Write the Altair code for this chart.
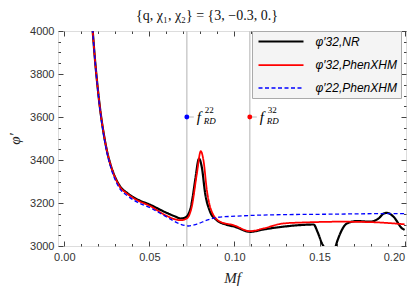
import altair as alt
import pandas as pd

# ---- data ----
mf_nr = [0.0150, 0.0167, 0.0180, 0.0195, 0.0210, 0.0230, 0.0250, 0.0275, 0.0300, 0.0330,
         0.0367, 0.0426, 0.0504, 0.0602, 0.0650, 0.0685, 0.0710, 0.0739, 0.0755, 0.0769,
         0.0792, 0.0808, 0.0828, 0.0857, 0.0896, 0.0950, 0.1000, 0.1092, 0.1171, 0.1288,
         0.1400, 0.1465, 0.1488, 0.1514, 0.1528, 0.1545, 0.1560, 0.1575, 0.1592, 0.1622,
         0.1661, 0.1720, 0.1798, 0.1850, 0.1877, 0.1896, 0.1935, 0.1985, 0.2000]
phi_nr = [4190, 4000, 3870, 3745, 3640, 3530, 3445, 3370, 3318, 3275,
          3248, 3218, 3192, 3154, 3138, 3128, 3132, 3167, 3230, 3306,
          3406, 3367, 3244, 3159, 3120, 3100, 3090, 3066, 3077, 3090,
          3098, 3100, 3066, 3012, 2990, 2940, 2920, 2930, 2990, 3059,
          3105, 3116, 3113, 3130, 3151, 3154, 3136, 3082, 3075]

mf_red = [0.0150, 0.0167, 0.0180, 0.0195, 0.0210, 0.0230, 0.0250, 0.0275, 0.0300, 0.0330,
          0.0367, 0.0426, 0.0504, 0.0602, 0.0681, 0.0720, 0.0749, 0.0779, 0.0802, 0.0818,
          0.0838, 0.0867, 0.0916, 0.0994, 0.1092, 0.1171, 0.1288, 0.1426, 0.1622, 0.1798,
          0.1985, 0.2000]
phi_red = [4190, 4000, 3870, 3745, 3640, 3530, 3445, 3370, 3316, 3272,
           3245, 3214, 3186, 3140, 3120, 3128, 3182, 3336, 3441, 3398,
           3259, 3159, 3113, 3097, 3069, 3082, 3105, 3110, 3113, 3111,
           3102, 3101]

mf_blue = [0.0150, 0.0167, 0.0180, 0.0195, 0.0210, 0.0230, 0.0250, 0.0275, 0.0300, 0.0330,
           0.0367, 0.0426, 0.0504, 0.0602, 0.0681, 0.0729, 0.0779, 0.0838, 0.0896, 0.1014,
           0.1092, 0.1171, 0.1563, 0.1985, 0.2000]
phi_blue = [4190, 4000, 3868, 3742, 3634, 3522, 3436, 3360, 3306, 3262,
            3236, 3205, 3178, 3135, 3102, 3093, 3102, 3120, 3133, 3139,
            3142, 3144, 3148, 3151, 3151]

series_names = ["φ′32,NR", "φ′32,PhenXHM", "φ′22,PhenXHM"]
series_colors = ["#000000", "#ff0000", "#0000ff"]
series_widths = [2.2, 1.3, 2.3]
series_dash = [[1, 0], [1, 0], [4, 2.5]]

f_rd = [0.0720, 0.1090]
f_rd_phi = [3600, 3600]
f_rd_sup = ["22", "32"]
f_rd_colors = ["#0000ff", "#ff0000"]

x_major = [0.0, 0.05, 0.10, 0.15, 0.20]
x_minor = [0.01, 0.02, 0.03, 0.04, 0.06, 0.07, 0.08, 0.09, 0.11, 0.12, 0.13, 0.14,
           0.16, 0.17, 0.18, 0.19]
y_major = [3000, 3200, 3400, 3600, 3800, 4000]
y_minor = [3050, 3100, 3150, 3250, 3300, 3350, 3450, 3500, 3550, 3650, 3700, 3750,
           3850, 3900, 3950]

x_domain = [-0.0037, 0.2008]
y_domain = [3000, 4000]

# ---- tables ----
rows = []
for name, xs_, ys_ in zip(series_names, [mf_nr, mf_red, mf_blue], [phi_nr, phi_red, phi_blue]):
    for a, b in zip(xs_, ys_):
        rows.append({"series": name, "mf": a, "phi": b})
curves = pd.DataFrame(rows)
marks = pd.DataFrame({"mf": f_rd, "phi": f_rd_phi, "sup": f_rd_sup, "col": f_rd_colors,
                      "sub": ["RD", "RD"], "f": ["f", "f"]})

xs = alt.Scale(domain=x_domain, nice=False, zero=False)
ys = alt.Scale(domain=y_domain, nice=False, zero=False)

TICK = "#444444"
MAJ, MIN = 5, 2.5


def ax(orient, values, size, labels=False, **kw):
    return alt.Axis(orient=orient, values=values, tickSize=size, offset=-size,
                    domain=False, grid=False, labels=labels, tickColor=TICK,
                    tickWidth=1, **kw)


legend = alt.Legend(title=None, orient="none", legendX=194, legendY=0,
                    symbolType="M-1.5,0H7.5", symbolSize=100, symbolOffset=3.5,
                    labelOffset=43, padding=4, rowPadding=11,
                    fillColor="#f4f4f4", strokeColor="#aaaaaa",
                    labelFont="Liberation Sans", labelFontStyle="italic",
                    labelFontSize=12, labelColor="#000000", symbolStrokeWidth=2,
                    labelLimit=0)

lines = alt.Chart(curves).mark_line(clip=True, interpolate="monotone").encode(
    x=alt.X("mf:Q", scale=xs,
            axis=ax("bottom", x_major, MAJ, labels=True, format=".2f",
                    labelFont="Liberation Sans", labelFontSize=11, labelColor="#333333",
                    labelPadding=5, labelFlush=4, labelFlushOffset=0,
                    title="Mf", titleFont="Liberation Serif",
                    titleFontStyle="italic", titleFontWeight="normal", titleFontSize=15,
                    titleColor="#222222", titlePadding=8)),
    y=alt.Y("phi:Q", scale=ys,
            axis=ax("left", y_major, MAJ, labels=True, format="d",
                    labelFont="Liberation Sans", labelFontSize=11, labelColor="#333333",
                    labelPadding=4, title="φ′", titleFont="Liberation Serif",
                    titleFontStyle="italic", titleFontWeight="normal", titleFontSize=15,
                    titleColor="#222222", titlePadding=7)),
    color=alt.Color("series:N", scale=alt.Scale(domain=series_names, range=series_colors),
                    legend=legend),
    strokeDash=alt.StrokeDash("series:N", scale=alt.Scale(domain=series_names, range=series_dash),
                              legend=legend),
    strokeWidth=alt.StrokeWidth("series:N", scale=alt.Scale(domain=series_names, range=series_widths),
                                legend=legend),
    order=alt.Order("ord:Q"),
).transform_calculate(ord="indexof(%s, datum.series)" % str(series_names).replace("'", '"'))

vrules = alt.Chart(marks).mark_rule(color="#cccccc", strokeWidth=1.5).encode(
    x=alt.X("mf:Q", scale=xs, axis=ax("bottom", x_minor, MIN, title=None)),
)

dots = alt.Chart(marks).mark_point(filled=True, size=24, opacity=1).encode(
    x=alt.X("mf:Q", scale=xs, axis=ax("top", x_major, MAJ, title=None)),
    y=alt.Y("phi:Q", scale=ys, axis=ax("left", y_minor, MIN, title=None)),
    color=alt.Color("col:N", scale=None),
)

callout = alt.Chart(marks).mark_rule(color="#bbbbbb", strokeWidth=1, xOffset=2, x2Offset=7).encode(
    x=alt.X("mf:Q", scale=xs, axis=ax("top", x_minor, MIN, title=None)),
    x2="mf:Q",
    y=alt.Y("phi:Q", scale=ys, axis=ax("right", y_major, MAJ, title=None)),
)

ftext = alt.Chart(marks).mark_text(font="Liberation Serif", fontStyle="italic", fontSize=15,
                                   align="left", baseline="middle", dx=10, dy=0).encode(
    x=alt.X("mf:Q", scale=xs, axis=None),
    y=alt.Y("phi:Q", scale=ys, axis=ax("right", y_minor, MIN, title=None)),
    text="f:N",
)

suptext = alt.Chart(marks).mark_text(font="Liberation Serif", fontSize=9,
                                     align="left", baseline="middle", dx=18, dy=-7).encode(
    x=alt.X("mf:Q", scale=xs, axis=None),
    y=alt.Y("phi:Q", scale=ys, axis=None),
    text="sup:N",
)

subtext = alt.Chart(marks).mark_text(font="Liberation Serif", fontStyle="italic", fontSize=9,
                                     align="left", baseline="middle", dx=17, dy=4).encode(
    x=alt.X("mf:Q", scale=xs, axis=None),
    y=alt.Y("phi:Q", scale=ys, axis=None),
    text="sub:N",
)

chart = alt.layer(vrules, lines, callout, dots, ftext, suptext, subtext).resolve_axis(
    x="independent", y="independent"
).properties(
    width=348, height=215,
    autosize=alt.AutoSizeParams(type="none"),
    padding={"left": 50, "top": 23, "right": 1, "bottom": 40},
    title=alt.TitleParams("{q, χ₁, χ₂} = {3, −0.3, 0.}", font="Liberation Serif",
                          fontSize=14, fontWeight="normal", color="#111111",
                          anchor="middle", dx=-25, offset=2),
).configure_view(stroke="#444444", strokeWidth=1).configure(background="white")

chart.save("out.html", embed_options={"renderer": "svg", "actions": False})
